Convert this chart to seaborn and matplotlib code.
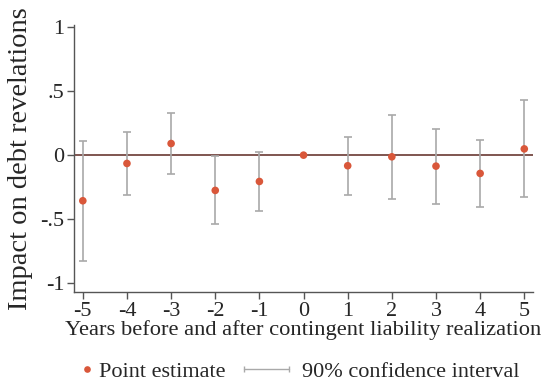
import matplotlib
matplotlib.use("Agg")
import matplotlib.pyplot as plt
import seaborn as sns
import pandas as pd
from matplotlib.lines import Line2D
from matplotlib.legend_handler import HandlerLine2D

# Data
years = [-5, -4, -3, -2, -1, 0, 1, 2, 3, 4, 5]
estimate = [-0.357, -0.065, 0.091, -0.276, -0.206, 0.0, -0.083, -0.013, -0.086, -0.143, 0.049]
ci_low = [-0.828, -0.313, -0.146, -0.539, -0.435, 0.0, -0.310, -0.344, -0.380, -0.409, -0.331]
ci_high = [0.112, 0.182, 0.326, -0.005, 0.023, 0.0, 0.143, 0.315, 0.206, 0.122, 0.430]
ytick_vals = [-1, -0.5, 0, 0.5, 1]
ytick_labels = ["-1", "-.5", "0", ".5", "1"]

df = pd.DataFrame({"year": years, "est": estimate, "lo": ci_low, "hi": ci_high})

sns.set_style("white")
plt.rcParams["font.family"] = ["Liberation Serif", "DejaVu Serif"]

point_color = "#d9573a"
ci_color = "#a9a9a9"
zero_color = "#7f5550"
spine_color = "#555555"


class RightMarkerHandler(HandlerLine2D):
    # single marker sitting at the right end of the handle box
    def get_xdata(self, legend, xdescent, ydescent, width, height, fontsize):
        xm = -xdescent + width + 1
        return [xm - 5, xm + 5], [xm]


fig = plt.figure(figsize=(5.44, 3.82), dpi=100)
ax = fig.add_axes([0.136, 0.236, 0.844, 0.699])

ax.axhline(0, color=zero_color, linewidth=1.4, zorder=1)

# confidence intervals
sub = df[df["hi"] != df["lo"]]
ax.errorbar(sub["year"], sub["est"],
            yerr=[sub["est"] - sub["lo"], sub["hi"] - sub["est"]],
            fmt="none", ecolor=ci_color, elinewidth=1.2, capsize=2.6,
            capthick=1.2, zorder=2)

# point estimates
sns.scatterplot(data=df, x="year", y="est", color=point_color, s=30,
                edgecolor="none", ax=ax, zorder=3, legend=False)

ax.set_xlim(-5.2, 5.2)
ax.set_ylim(-1.07, 1.02)
ax.set_xticks(years)
ax.set_xticklabels([str(y) for y in years])
ax.set_yticks(ytick_vals)
ax.set_yticklabels(ytick_labels)

ax.set_xlabel("Years before and after contingent liability realization", fontsize=16.2, labelpad=0)
ax.set_ylabel("Impact on debt revelations", fontsize=20.5, labelpad=5)

ax.tick_params(axis="both", which="major", direction="out", length=5, width=1,
               color=spine_color, labelsize=16, pad=2, left=True, bottom=True)

sns.despine(ax=ax)
for s in ["left", "bottom"]:
    ax.spines[s].set_color(spine_color)
    ax.spines[s].set_linewidth(1)

pt_handle = Line2D([], [], linestyle="none", marker="o", markersize=4.8,
                   markerfacecolor=point_color, markeredgecolor="none")
ci_handle = Line2D([], [], color=ci_color, linewidth=1, marker="|",
                   markersize=5, markeredgecolor=ci_color)
fig.legend([pt_handle, ci_handle], ["Point estimate", "90% confidence interval"],
           loc="lower center", bbox_to_anchor=(0.515, -0.052), ncol=2, frameon=False,
           fontsize=16, handlelength=2.03, handletextpad=0.6, columnspacing=0.8,
           handler_map={ci_handle: HandlerLine2D(numpoints=2, marker_pad=0),
                        pt_handle: RightMarkerHandler(numpoints=1)})

fig.savefig("out.png", dpi=100)
